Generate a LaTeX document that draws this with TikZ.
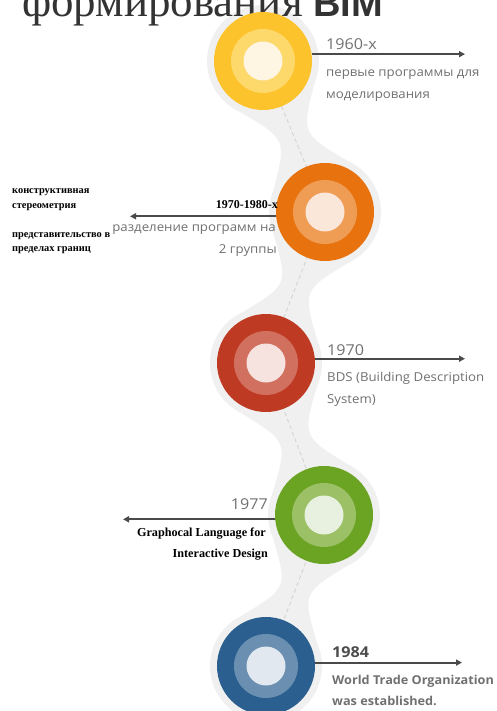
\documentclass[tikz,border=0pt]{standalone}
\usepackage{fontspec}
\setmainfont{Liberation Serif}
\newfontfamily\gsans[FakeStretch=1.075]{Open Sans}
\newfontfamily\gsansb[FakeStretch=1.04]{Open Sans}
\newfontfamily\hsans{Liberation Sans}
\usetikzlibrary{calc,arrows.meta}
\definecolor{bgc}{HTML}{EFF0EF}
\definecolor{dashc}{HTML}{D2D4D2}
\definecolor{arrc}{HTML}{4A4A4A}
\definecolor{greyt}{HTML}{707070}
\definecolor{yOut}{HTML}{FCC32C}\definecolor{yMid}{HTML}{FDD86A}\definecolor{yIn}{HTML}{FEF6E2}
\definecolor{oOut}{HTML}{E8730E}\definecolor{oMid}{HTML}{EF9C55}\definecolor{oIn}{HTML}{FBE7DA}
\definecolor{rOut}{HTML}{BE3A22}\definecolor{rMid}{HTML}{D1705F}\definecolor{rIn}{HTML}{F6E2DE}
\definecolor{gOut}{HTML}{6BA323}\definecolor{gMid}{HTML}{9CC065}\definecolor{gIn}{HTML}{E8F0DF}
\definecolor{bOut}{HTML}{2A5F8F}\definecolor{bMid}{HTML}{6A8FB1}\definecolor{bIn}{HTML}{E1E8F0}
\begin{document}
\begin{tikzpicture}[x=1pt,y=-1pt,
  disc/.style={circle,inner sep=0pt,minimum size=98pt},
  arr/.style={draw=arrc,line width=2pt,-{Triangle[length=6pt,width=6pt]}},
  yeartxt/.style={inner sep=0pt,font=\gsans\fontsize{15}{15}\selectfont,text=greyt},
  desctxt/.style={inner sep=0pt,font=\gsans\fontsize{12.3}{13}\selectfont,text=greyt},
  boldser/.style={inner sep=0pt,font=\bfseries\fontsize{12.2}{13}\selectfont,text=black},
  smallser/.style={inner sep=0pt,font=\bfseries\fontsize{10.4}{11}\selectfont,text=black},
  boldsans/.style={inner sep=0pt,font=\gsansb\bfseries\fontsize{12.2}{13}\selectfont,text=greyt},
  ]
\useasboundingbox (0,0) rectangle (497,711);
\clip (0,0) rectangle (497,711);
\coordinate (cY) at (263,61);
\coordinate (cO) at (325,212);
\coordinate (cR) at (266,363);
\coordinate (cG) at (324,515);
\coordinate (cB) at (266,666);
% background snake
\foreach \c in {cY,cO,cR,cG,cB} \fill[bgc] (\c) circle (56);
\foreach \a/\b in {cY/cO,cO/cR,cR/cG,cG/cB}{
  \fill[bgc] ($(\a)!56pt!45:(\b)$)
    .. controls ($($(\a)!0.5!(\b)$)!8pt!90:(\b)$) and ($($(\a)!0.5!(\b)$)!8pt!90:(\b)$) .. ($(\b)!56pt!-45:(\a)$)
    -- ($(\b)!56pt!45:(\a)$)
    .. controls ($($(\a)!0.5!(\b)$)!8pt!-90:(\b)$) and ($($(\a)!0.5!(\b)$)!8pt!-90:(\b)$) .. ($(\a)!56pt!-45:(\b)$)
    -- cycle;
}
\draw[dashc,line width=0.9pt,dash pattern=on 4pt off 3pt] (cY) -- (cO) -- (cR) -- (cG) -- (cB);
% title
\node[inner sep=0pt,anchor=base west,font=\fontsize{45}{45}\selectfont,text=black!80] (title) at (22,17) {формирования};
\node[inner sep=0pt,anchor=base west,font=\hsans\bfseries\fontsize{38}{38}\selectfont,text=black!80] (bim) at (313,17) {BIM};
% discs
\node[disc,fill=yOut] (nY) at (cY) {};
\fill[yMid] (cY) circle (32); \fill[yIn] (cY) circle (19.5);
\node[disc,fill=oOut] (nO) at (cO) {};
\fill[oMid] (cO) circle (32); \fill[oIn] (cO) circle (19.5);
\node[disc,fill=rOut] (nR) at (cR) {};
\fill[rMid] (cR) circle (32); \fill[rIn] (cR) circle (19.5);
\node[disc,fill=gOut] (nG) at (cG) {};
\fill[gMid] (cG) circle (32); \fill[gIn] (cG) circle (19.5);
\node[disc,fill=bOut] (nB) at (cB) {};
\fill[bMid] (cB) circle (32); \fill[bIn] (cB) circle (19.5);
% arrow ends
\coordinate (eY) at (465,54);
\coordinate (eO) at (130,216);
\coordinate (eR) at (465,359);
\coordinate (eG) at (123,519);
\coordinate (eB) at (462,663);
\draw[arr] (nY.8) -- (nY.8 -| eY);
\draw[arr] (nO.185) -- (nO.185 -| eO);
\draw[arr] (nR.5) -- (nR.5 -| eR);
\draw[arr] (nG.185) -- (nG.185 -| eG);
\draw[arr] (nB.4) -- (nB.4 -| eB);
% texts 1960
\node[yeartxt,anchor=base west] (tY1) at (326,50) {1960-х};
\node[desctxt,anchor=base west] (tY2) at (326,77) {первые программы для};
\node[desctxt,anchor=base west] (tY3) at (326,99) {моделирования};
% 1970-1980
\node[boldser,font=\bfseries\fontsize{12}{13}\selectfont,anchor=base east] (tO1) at (278,208) {1970-1980-х};
\node[desctxt,anchor=base east] (tO2) at (276,231) {разделение программ на};
\node[desctxt,anchor=base east] (tO3) at (277,253) {2 группы};
\node[smallser,anchor=base west] (tL1) at (12,194) {конструктивная};
\node[smallser,anchor=base west] (tL2) at (12,208) {стереометрия};
\node[smallser,anchor=base west] (tL3) at (12,237) {представительство в};
\node[smallser,anchor=base west] (tL4) at (12,251) {пределах границ};
% 1970
\node[yeartxt,anchor=base west] (tR1) at (327,355) {1970};
\node[desctxt,anchor=base west] (tR2) at (327,381) {BDS (Building Description};
\node[desctxt,anchor=base west] (tR3) at (327,403) {System)};
% 1977
\node[yeartxt,anchor=base east] (tG1) at (268,509) {1977};
\node[boldser,anchor=base east] (tG2) at (266,536) {Graphocal Language for};
\node[boldser,anchor=base east] (tG3) at (268,557) {Interactive Design};
% 1984
\node[inner sep=0pt,font=\gsans\bfseries\fontsize{15}{15}\selectfont,text=black!70,anchor=base west] (tB1) at (332,657) {1984};
\node[boldsans,anchor=base west] (tB2) at (332,684) {World Trade Organization};
\node[boldsans,anchor=base west] (tB3) at (332,705) {was established.};
\end{tikzpicture}
\end{document}
